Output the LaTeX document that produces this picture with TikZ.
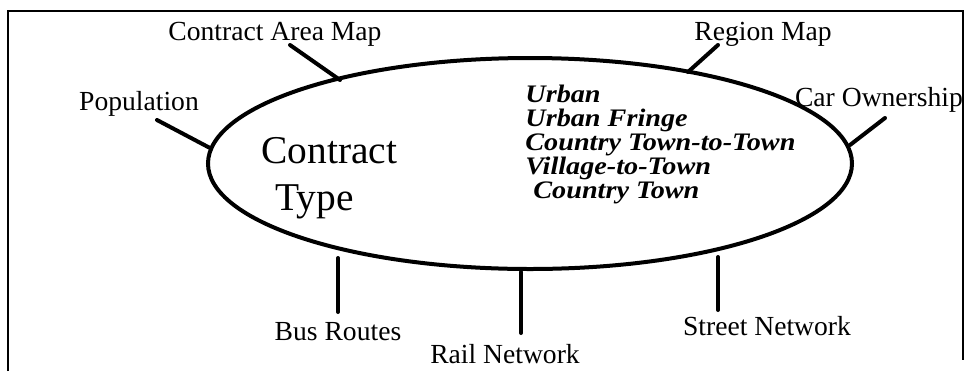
\documentclass[tikz,border=0pt]{standalone}
\usepackage{fontspec}
\setmainfont{Liberation Serif}
\newfontfamily\kindfont[FakeStretch=1.12]{Liberation Serif}
\usetikzlibrary{shapes.geometric}

\tikzset{
  label/.style={font=\fontsize{13.8pt}{16pt}\selectfont, inner sep=0pt, anchor=base},
  bigtext/.style={font=\fontsize{19.7pt}{23pt}\selectfont, inner sep=0pt, anchor=base west},
  kind/.style={font=\kindfont\fontsize{12.6pt}{12pt}\selectfont\bfseries\itshape,
               inner sep=0pt, align=left, anchor=north west},
  spoke/.style={line width=2pt, line cap=round},
  frameline/.style={line width=1.3pt},
}

\begin{document}
\begin{tikzpicture}[x=0.5pt, y=-0.5pt]
  \useasboundingbox (0,0) rectangle (966,371);

  % open frame: left, top and right sides only
  \draw[frameline] (8,371) -- (8,11) -- (963,11) -- (963,360);

  % central ellipse
  \node[draw, ellipse, line width=2pt, minimum width=322pt, minimum height=105.5pt,
        inner sep=0pt] (ct) at (530,163.5) {};

  \node[bigtext] (c1) at (261,163) {Contract};
  \node[bigtext] (c2) at (275,210) {Type};

  % contract types
  \node[kind] (kinds) at (525,85) {Urban\\ Urban Fringe\\ Country Town-to-Town\\
      Village-to-Town\\ \hspace{4pt}Country Town};

  % surrounding data sources
  \node[label] (cam)    at (275,40)  {Contract Area Map};
  \node[label] (pop)    at (139,110) {Population};
  \node[label] (reg)    at (763,40)  {Region Map};
  \node[label] (car)    at (879,106) {Car Ownership};
  \node[label] (bus)    at (338,340) {Bus Routes};
  \node[label] (rail)   at (505,363) {Rail Network};
  \node[label] (street) at (767,335) {Street Network};

  % spoke end points
  \coordinate (camA) at (290,45);  \coordinate (camB) at (340,80);
  \coordinate (popA) at (157,120); \coordinate (popB) at (210,148);
  \coordinate (regA) at (718,45);  \coordinate (regB) at (688,72);
  \coordinate (carA) at (885,118); \coordinate (carB) at (850,145);
  \coordinate (busA) at (338,258); \coordinate (busB) at (338,312);
  \coordinate (railA) at (521,272); \coordinate (railB) at (521,333);
  \coordinate (strA) at (718,257); \coordinate (strB) at (718,310);

  \draw[spoke] (camA) -- (camB);
  \draw[spoke] (popA) -- (popB);
  \draw[spoke] (regA) -- (regB);
  \draw[spoke] (carA) -- (carB);
  \draw[spoke] (busA) -- (busB);
  \draw[spoke] (railA) -- (railB);
  \draw[spoke] (strA) -- (strB);
\end{tikzpicture}
\end{document}
